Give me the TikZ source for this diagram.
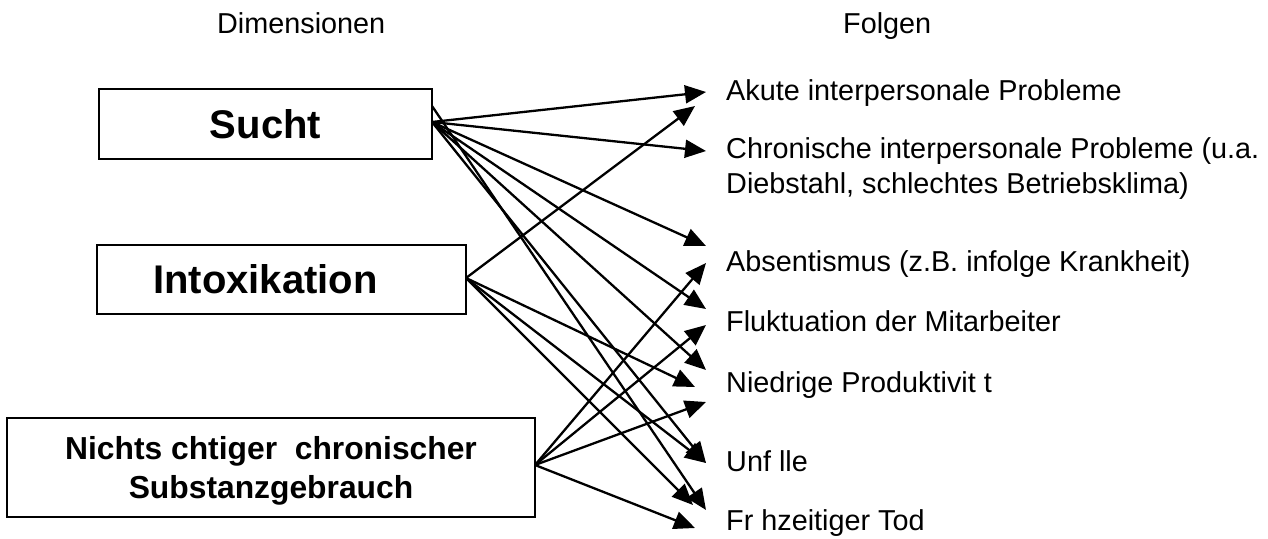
\documentclass[tikz,border=0pt]{standalone}
\usepackage{fontspec}
\setmainfont{Liberation Sans}
\usetikzlibrary{arrows.meta}
\begin{document}
\begin{tikzpicture}[x=1pt,y=-1pt,
  box/.style={draw, line width=1.3pt, inner sep=0pt, align=center},
  lbl/.style={anchor=base west, inner sep=0pt, font=\fontsize{28.8}{33}\selectfont},
  arr/.style={line width=2.3pt, -{Triangle[length=21pt,width=18pt]}}]
\useasboundingbox (0,0) rectangle (1268,538);
% headers
\node[lbl] (dim) at (217,33) {Dimensionen};
\node[lbl] (folg) at (843,33) {Folgen};
% boxes
\node[box, minimum width=333pt, minimum height=70pt, font=\fontsize{40}{46}\selectfont\bfseries] (sucht) at (265.5,124) {Sucht};
\node[box, minimum width=369pt, minimum height=69pt, font=\fontsize{40}{46}\selectfont\bfseries] (intox) at (281.5,279.5) {Intoxikation\hspace{32pt}};
\node[box, minimum width=528pt, minimum height=99pt, font=\fontsize{31.8}{39}\selectfont\bfseries] (nichts) at (271,467.5) {\rule{0pt}{30pt}Nichts chtiger\ \ chronischer\\Substanzgebrauch};
% consequences
\node[lbl] (akute) at (726,100) {Akute interpersonale Probleme};
\node[lbl] (chron) at (726,158) {Chronische interpersonale Probleme (u.a.};
\node[lbl] (chron2) at (726,193) {Diebstahl, schlechtes Betriebsklima)};
\node[lbl] (absent) at (726,271) {Absentismus (z.B. infolge Krankheit)};
\node[lbl] (fluk) at (726,331) {Fluktuation der Mitarbeiter};
\node[lbl] (nied) at (726,392) {Niedrige Produktivit t};
\node[lbl] (unf) at (726,471) {Unf lle};
\node[lbl] (frueh) at (726,530) {Fr hzeitiger Tod};
% origins
\coordinate (s1) at (432,122);
\coordinate (s2) at (432,106);
\coordinate (i1) at (466,278);
\coordinate (n1) at (535,465);
% arrow tips
\coordinate (tAk1) at (706,92);
\coordinate (tAk2) at (695,106);
\coordinate (tCh) at (706,151);
\coordinate (tAb1) at (706,246);
\coordinate (tAb2) at (706,263);
\coordinate (tFl1) at (706,309);
\coordinate (tFl2) at (706,325);
\coordinate (tNi1) at (706,370);
\coordinate (tNi2) at (695,387);
\coordinate (tNi3) at (706,402);
\coordinate (tUn) at (706,463);
\coordinate (tFr1) at (693,505);
\coordinate (tFr2) at (706,510);
\coordinate (tFr3) at (695,528);
% Sucht
\draw[arr] (s1) -- (tAk1);
\draw[arr] (s1) -- (tCh);
\draw[arr] (s1) -- (tAb1);
\draw[arr] (s1) -- (tFl1);
\draw[arr] (s1) -- (tNi1);
\draw[arr] (s1) -- (tUn);
\draw[arr] (s2) -- (tFr2);
% Intoxikation
\draw[arr] (i1) -- (tAk2);
\draw[arr] (i1) -- (tNi2);
\draw[arr] (i1) -- (tUn);
\draw[arr] (i1) -- (tFr1);
% Nichtsuechtiger
\draw[arr] (n1) -- (tAb2);
\draw[arr] (n1) -- (tFl2);
\draw[arr] (n1) -- (tNi3);
\draw[arr] (n1) -- (tFr3);
\end{tikzpicture}
\end{document}
